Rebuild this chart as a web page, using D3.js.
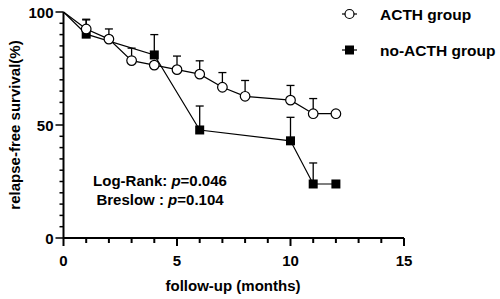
<!DOCTYPE html>
<html>
<head>
<meta charset="utf-8">
<script src="https://cdn.jsdelivr.net/npm/d3@7"></script>
<style>
  body { margin: 0; background: #fff; }
  text { font-family: "Liberation Sans", Arial, sans-serif; font-weight: bold; fill: #000; }
</style>
</head>
<body>
<svg id="chart" width="500" height="299"></svg>
<script>
// follow-up months and survival (%)
const acthMonths = [0, 1, 2, 3, 4, 5, 6, 7, 8, 10, 11, 12]
const acthSurv   = [100, 92.5, 88, 78.5, 76.5, 74.5, 72.5, 66.7, 62.7, 61, 55, 55]
const acthUpper  = [null, 96.8, 92.5, 84, null, 80.5, 78.4, 73.2, 69.7, 67.5, 61.7, null]

const noMonths = [0, 1, 4, 6, 10, 11, 12]
const noSurv   = [100, 90.2, 81, 47.8, 43, 23.9, 23.9]
const noUpper  = [null, 96.5, 90, 58.4, 53.4, 33.2, null]

const xTicks = [0, 5, 10, 15]
const yTicks = [0, 50, 100]

const svg = d3.select('#chart')

const x = d3.scaleLinear().domain([0, 15]).range([63.5, 404])
const y = d3.scaleLinear().domain([0, 100]).range([238, 12])

// axes
const xAxis = svg.append('g').attr('transform', 'translate(0,238)')
xAxis.append('line')
    .attr('x1', x(0)).attr('x2', x(15))
    .attr('stroke', '#000').attr('stroke-width', 2)
xAxis.selectAll('.minor')
    .data(d3.range(0, 16))
    .enter()
    .append('line')
    .attr('x1', d => x(d)).attr('x2', d => x(d))
    .attr('y1', 0).attr('y2', d => d % 5 === 0 ? 8 : 5)
    .attr('stroke', '#000').attr('stroke-width', 2)
xAxis.selectAll('text')
    .data(xTicks)
    .enter()
    .append('text')
    .attr('x', d => x(d)).attr('y', 28)
    .attr('text-anchor', 'middle')
    .style('font-size', '15px')
    .text(d => d)

const yAxis = svg.append('g').attr('transform', 'translate(63.5,0)')
yAxis.append('line')
    .attr('y1', y(0)).attr('y2', y(100))
    .attr('stroke', '#000').attr('stroke-width', 2)
yAxis.selectAll('.minor')
    .data(d3.range(0, 101, 5))
    .enter()
    .append('line')
    .attr('y1', d => y(d)).attr('y2', d => y(d))
    .attr('x1', 0).attr('x2', d => d % 50 === 0 ? -8 : -4)
    .attr('stroke', '#000').attr('stroke-width', 1.5)
yAxis.selectAll('text')
    .data(yTicks)
    .enter()
    .append('text')
    .attr('x', -10).attr('y', d => y(d) + 5.5)
    .attr('text-anchor', 'end')
    .style('font-size', '15px')
    .text(d => d)

svg.append('text')
    .attr('x', 233).attr('y', 291)
    .attr('text-anchor', 'middle')
    .style('font-size', '15px')
    .text('follow-up (months)')

svg.append('text')
    .attr('transform', 'translate(20,125) rotate(-90)')
    .attr('text-anchor', 'middle')
    .style('font-size', '15px')
    .text('relapse-free survival(%)')

// error bars (upper only)
function errBars(months, surv, upper) {
    const g = svg.append('g')
    months.forEach((m, i) => {
        if (upper[i] == null) return
        g.append('line')
            .attr('x1', x(m)).attr('x2', x(m))
            .attr('y1', y(surv[i])).attr('y2', y(upper[i]))
            .attr('stroke', '#000').attr('stroke-width', 1.3)
        g.append('line')
            .attr('x1', x(m) - 4).attr('x2', x(m) + 4)
            .attr('y1', y(upper[i])).attr('y2', y(upper[i]))
            .attr('stroke', '#000').attr('stroke-width', 1.3)
    })
}
errBars(noMonths, noSurv, noUpper)
errBars(acthMonths, acthSurv, acthUpper)

const line = d3.line().x(d => x(d[0])).y(d => y(d[1]))

svg.append('path')
    .datum(noMonths.map((m, i) => [m, noSurv[i]]))
    .attr('d', line)
    .attr('fill', 'none').attr('stroke', '#000').attr('stroke-width', 1.2)

svg.append('path')
    .datum(acthMonths.map((m, i) => [m, acthSurv[i]]))
    .attr('d', line)
    .attr('fill', 'none').attr('stroke', '#000').attr('stroke-width', 1.2)

svg.append('g')
    .selectAll('rect')
    .data(noMonths.slice(1).map((m, i) => [m, noSurv[i + 1]]))
    .enter()
    .append('rect')
    .attr('x', d => x(d[0]) - 4.5).attr('y', d => y(d[1]) - 4.5)
    .attr('width', 9).attr('height', 9)
    .attr('fill', '#000')

svg.append('g')
    .selectAll('circle')
    .data(acthMonths.slice(1).map((m, i) => [m, acthSurv[i + 1]]))
    .enter()
    .append('circle')
    .attr('cx', d => x(d[0])).attr('cy', d => y(d[1]))
    .attr('r', 4.8)
    .attr('fill', '#fff').attr('stroke', '#000').attr('stroke-width', 1.2)

// annotation
const ann = svg.append('g').style('font-size', '15px')
const t1 = ann.append('text').attr('x', 160).attr('y', 186).attr('text-anchor', 'middle')
t1.append('tspan').text('Log-Rank: ')
t1.append('tspan').style('font-style', 'italic').text('p')
t1.append('tspan').text('=0.046')
const t2 = ann.append('text').attr('x', 160).attr('y', 204.5).attr('text-anchor', 'middle')
t2.append('tspan').text('Breslow : ')
t2.append('tspan').style('font-style', 'italic').text('p')
t2.append('tspan').text('=0.104')

// legend
const legend = svg.append('g')
legend.append('line').attr('x1', 342).attr('x2', 357).attr('y1', 14).attr('y2', 14)
    .attr('stroke', '#000').attr('stroke-width', 1.2)
legend.append('circle').attr('cx', 349.5).attr('cy', 14).attr('r', 4.5)
    .attr('fill', '#fff').attr('stroke', '#000').attr('stroke-width', 1.2)
legend.append('text').attr('x', 380).attr('y', 19.5).style('font-size', '15.5px').text('ACTH group')
legend.append('line').attr('x1', 342).attr('x2', 357).attr('y1', 50).attr('y2', 50)
    .attr('stroke', '#000').attr('stroke-width', 1.2)
legend.append('rect').attr('x', 345).attr('y', 45.5).attr('width', 9).attr('height', 9)
    .attr('fill', '#000')
legend.append('text').attr('x', 380).attr('y', 55.5).style('font-size', '15.5px').text('no-ACTH group')
</script>
</body>
</html>
